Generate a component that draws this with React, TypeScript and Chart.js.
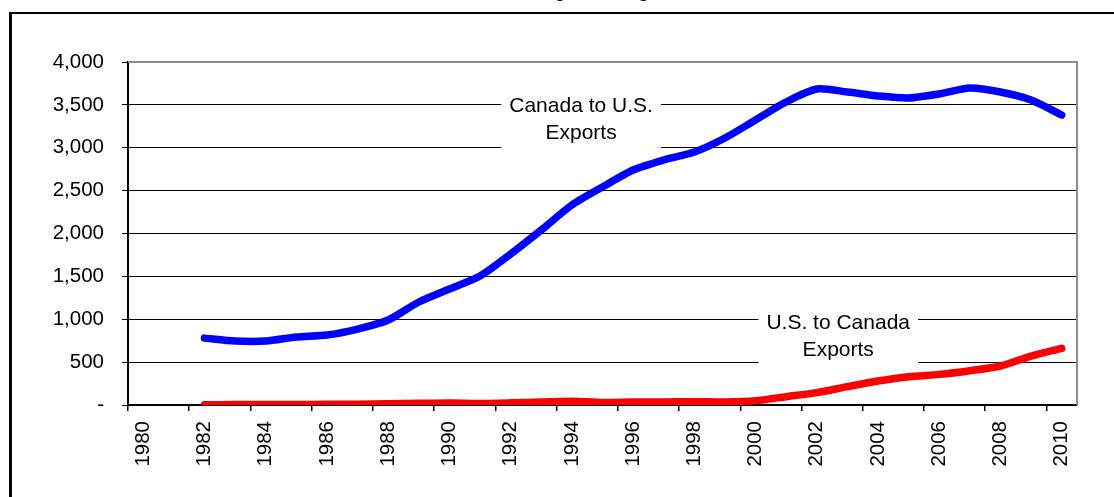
import React, { useEffect, useRef } from 'react';
import { Chart, registerables } from 'chart.js';

Chart.register(...registerables);

const YEARS = [
  '1980', '1981', '1982', '1983', '1984', '1985', '1986', '1987', '1988', '1989',
  '1990', '1991', '1992', '1993', '1994', '1995', '1996', '1997', '1998', '1999',
  '2000', '2001', '2002', '2003', '2004', '2005', '2006', '2007', '2008', '2009', '2010',
];

const CANADA_TO_US = [
  null, null, 780, 746, 746, 793, 816, 886, 991, 1201,
  1353, 1504, 1761, 2041, 2332, 2542, 2740, 2857, 2950, 3114,
  3324, 3534, 3685, 3650, 3604, 3580, 3627, 3697, 3650, 3557, 3382,
];

const US_TO_CANADA = [
  null, null, 3, 5, 5, 5, 8, 10, 15, 20,
  22, 18, 25, 35, 45, 30, 35, 35, 38, 35,
  50, 97, 144, 214, 280, 330, 357, 400, 455, 571, 661,
];

const Y_MIN = 0;
const Y_MAX = 4000;
const Y_STEP = 500;

const ANNOTATION_TEXTS = [
  ['Canada to U.S.', 'Exports'],
  ['U.S. to Canada', 'Exports'],
];
const ANNOTATION_YEARS = [1994.3, 2002.7];
const ANNOTATION_VALUES = [3330, 800];

const TITLE = 'Natural gas trading';

const FONT = '"Liberation Sans", Arial, Helvetica, sans-serif';

const annotationPlugin = {
  id: 'annotations',
  beforeDatasetsDraw(chart: any) {
    const { ctx, chartArea, scales } = chart;
    const x = scales.x;
    const y = scales.y;
    ctx.save();
    // grey plot frame (top & right)
    ctx.strokeStyle = '#8c8c8c';
    ctx.lineWidth = 2;
    ctx.beginPath();
    ctx.moveTo(chartArea.left, chartArea.top);
    ctx.lineTo(chartArea.right, chartArea.top);
    ctx.lineTo(chartArea.right, chartArea.bottom);
    ctx.stroke();

    ctx.font = `21px ${FONT}`;
    ANNOTATION_TEXTS.forEach((lines, i) => {
      const cx = x.getPixelForValue(ANNOTATION_YEARS[i] - Number(YEARS[0]));
      const cy = y.getPixelForValue(ANNOTATION_VALUES[i]);
      const lh = 27;
      const w = Math.max(...lines.map((l) => ctx.measureText(l).width)) + 16;
      const h = lines.length * lh + 10;
      ctx.fillStyle = '#ffffff';
      ctx.fillRect(cx - w / 2, cy - h / 2, w, h);
      ctx.fillStyle = '#000000';
      ctx.textAlign = 'center';
      ctx.textBaseline = 'middle';
      lines.forEach((l, j) => {
        ctx.fillText(l, cx, cy - ((lines.length - 1) * lh) / 2 + j * lh);
      });
    });
    ctx.restore();
  },
};

export default function App() {
  const ref = useRef<HTMLCanvasElement | null>(null);

  useEffect(() => {
    if (!ref.current) return;
    const chart = new Chart(ref.current, {
      type: 'line',
      data: {
        labels: YEARS,
        datasets: [
          {
            label: 'Canada to U.S. Exports',
            data: CANADA_TO_US,
            borderColor: '#0000ff',
            backgroundColor: '#0000ff',
            borderWidth: 7.5,
            pointRadius: 0,
            tension: 0.25,
            borderCapStyle: 'round',
            borderJoinStyle: 'round',
          },
          {
            label: 'U.S. to Canada Exports',
            data: US_TO_CANADA,
            borderColor: '#ff0000',
            backgroundColor: '#ff0000',
            borderWidth: 7.5,
            pointRadius: 0,
            tension: 0.25,
            borderCapStyle: 'round',
            borderJoinStyle: 'round',
          },
        ],
      },
      options: {
        animation: false,
        responsive: false,
        devicePixelRatio: 1,
        layout: { padding: { left: 0, right: 37, top: 62, bottom: 0 } },
        plugins: {
          legend: { display: false },
          tooltip: { enabled: false },
          title: { display: false },
        },
        scales: {
          x: {
            type: 'category',
            offset: true,
            afterFit: (s: any) => {
              s.height = 92;
            },
            grid: {
              offset: true,
              drawOnChartArea: false,
              drawTicks: true,
              tickLength: 6,
              lineWidth: 1.5,
              color: (c: any) =>
                typeof c.index === 'number' && c.index % 2 === 0 ? '#000000' : 'rgba(0,0,0,0)',
            },
            border: { display: true, color: '#000000', width: 1.5 },
            ticks: {
              autoSkip: false,
              minRotation: 90,
              maxRotation: 90,
              padding: 10,
              color: '#000000',
              font: { family: FONT, size: 20.5 },
              callback: (_v: any, i: number) => (i % 2 === 0 ? YEARS[i] : ''),
            },
          },
          y: {
            min: Y_MIN,
            max: Y_MAX,
            afterFit: (s: any) => {
              s.width = 128;
            },
            grid: {
              color: '#000000',
              lineWidth: 1,
              drawTicks: true,
              tickLength: 6,
            },
            border: { display: true, color: '#000000', width: 2 },
            ticks: {
              stepSize: Y_STEP,
              padding: 18,
              color: '#000000',
              font: { family: FONT, size: 20.5 },
              callback: (v: any) => (Number(v) === 0 ? '-' : Number(v).toLocaleString('en-US')),
            },
          },
        },
      },
      plugins: [annotationPlugin],
    });
    return () => chart.destroy();
  }, []);

  return (
    <div
      style={{
        position: 'fixed',
        left: 0,
        top: 0,
        width: 1114,
        height: 497,
        overflow: 'hidden',
        background: '#ffffff',
      }}
    >
      <div
        style={{
          position: 'absolute',
          left: 0,
          top: -21.5,
          width: 1138,
          textAlign: 'center',
          fontFamily: FONT,
          fontWeight: 'bold',
          fontSize: 17.5,
          lineHeight: '24px',
          color: '#000',
          whiteSpace: 'nowrap',
        }}
      >
        {TITLE}
      </div>
      <div
        style={{
          position: 'absolute',
          left: 9,
          top: 12,
          width: 1300,
          height: 700,
          borderTop: '2px solid #000',
          borderLeft: '3px solid #000',
        }}
      />
      <canvas
        ref={ref}
        width={1114}
        height={497}
        style={{ position: 'absolute', left: 0, top: 0, width: 1114, height: 497 }}
      />
    </div>
  );
}
